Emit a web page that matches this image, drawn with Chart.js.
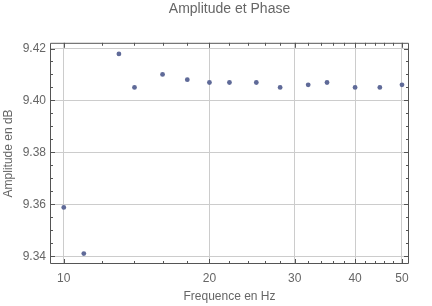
<!DOCTYPE html>
<html>
<head>
<meta charset="utf-8">
<script src="https://cdn.jsdelivr.net/npm/chart.js@4/dist/chart.umd.min.js"></script>
<style>
html,body{margin:0;padding:0;background:#fff;}
#wrap{width:432px;height:306px;}
</style>
</head>
<body>
<div id="wrap"><canvas id="c" width="432" height="306"></canvas></div>
<script>
const frequencies = [10, 11, 13, 14, 16, 18, 20, 22, 25, 28, 32, 35, 40, 45, 50];
const amplitudes = [9.3588, 9.341, 9.4179, 9.405, 9.410, 9.408, 9.4069, 9.4069, 9.4069, 9.405, 9.406, 9.4069, 9.405, 9.405, 9.406];
const xTickValues = [10, 12, 14, 16, 18, 20, 22, 24, 26, 28, 30, 32, 34, 36, 38, 40, 42, 44, 46, 48, 50];
const xMajorTicks = [10, 20, 30, 40, 50];
const yTickValues = [9.34, 9.345, 9.35, 9.355, 9.36, 9.365, 9.37, 9.375, 9.38, 9.385, 9.39, 9.395, 9.40, 9.405, 9.41, 9.415, 9.42];
const yMajorTicks = [9.34, 9.36, 9.38, 9.40, 9.42];

const isMajor = (v, list) => list.some(m => Math.abs(m - v) < 1e-6);
const FONT = "'Liberation Sans', Arial, sans-serif";
const TXT = '#666666';

const framePlugin = {
  id: 'frame',
  afterDatasetsDraw(chart) {
    const {ctx, chartArea: a, scales} = chart;
    ctx.save();
    ctx.strokeStyle = '#555555';
    ctx.lineWidth = 1;
    ctx.beginPath();
    ctx.rect(a.left + 0.5, a.top + 0.5, a.right - a.left - 1, a.bottom - a.top - 1);
    ctx.stroke();
    ctx.beginPath();
    scales.x.ticks.forEach(t => {
      const px = Math.round(scales.x.getPixelForValue(t.value)) + 0.5;
      const len = isMajor(t.value, xMajorTicks) ? 5 : 3;
      ctx.moveTo(px, a.bottom); ctx.lineTo(px, a.bottom - len);
      ctx.moveTo(px, a.top); ctx.lineTo(px, a.top + len);
    });
    scales.y.ticks.forEach(t => {
      const py = Math.round(scales.y.getPixelForValue(t.value)) + 0.5;
      const len = isMajor(t.value, yMajorTicks) ? 5 : 3;
      ctx.moveTo(a.left, py); ctx.lineTo(a.left + len, py);
      ctx.moveTo(a.right, py); ctx.lineTo(a.right - len, py);
    });
    ctx.stroke();
    ctx.restore();
  }
};

new Chart(document.getElementById('c'), {
  type: 'scatter',
  data: {
    datasets: [{
      data: frequencies.map((f, i) => ({x: f, y: amplitudes[i]})),
      backgroundColor: '#5f6a98',
      borderWidth: 0,
      pointRadius: 2.4,
      pointHoverRadius: 2.4
    }]
  },
  options: {
    responsive: false,
    animation: false,
    devicePixelRatio: 1,
    layout: {padding: {left: 0, right: 23, top: 0, bottom: 0}},
    plugins: {
      legend: {display: false},
      tooltip: {enabled: false},
      title: {
        display: true,
        text: 'Amplitude et Phase',
        color: TXT,
        fullSize: false,
        font: {family: FONT, size: 14, weight: 'normal'},
        padding: {top: 1, bottom: 25}
      }
    },
    scales: {
      x: {
        type: 'logarithmic',
        min: 9.365,
        max: 51.7,
        afterBuildTicks(scale) {
          scale.ticks = xTickValues.map(v => ({value: v, major: false}));
        },
        afterFit(scale) { scale.height = 42; },
        ticks: {
          autoSkip: false,
          maxRotation: 0,
          padding: 7,
          color: TXT,
          font: {family: FONT, size: 12},
          callback: (v) => isMajor(v, xMajorTicks) ? String(v) : ''
        },
        grid: {
          drawTicks: false,
          color: c => (c.tick && isMajor(c.tick.value, xMajorTicks)) ? '#cccccc' : 'rgba(0,0,0,0)'
        },
        border: {display: false},
        title: {
          display: true,
          text: 'Frequence en Hz',
          color: TXT,
          font: {family: FONT, size: 12},
          padding: {top: 0, bottom: 2}
        }
      },
      y: {
        min: 9.337,
        max: 9.4222,
        afterBuildTicks(scale) {
          scale.ticks = yTickValues.map(v => ({value: v}));
        },
        afterFit(scale) { scale.width = 50; },
        ticks: {
          autoSkip: false,
          padding: 4,
          color: TXT,
          font: {family: FONT, size: 12},
          callback: (v) => isMajor(v, yMajorTicks) ? Number(v).toFixed(2) : ''
        },
        grid: {
          drawTicks: false,
          color: c => (c.tick && isMajor(c.tick.value, yMajorTicks)) ? '#cccccc' : 'rgba(0,0,0,0)'
        },
        border: {display: false},
        title: {
          display: true,
          text: 'Amplitude en dB',
          color: TXT,
          font: {family: FONT, size: 12},
          padding: {top: 1, bottom: 0}
        }
      }
    }
  },
  plugins: [framePlugin]
});
</script>
</body>
</html>
